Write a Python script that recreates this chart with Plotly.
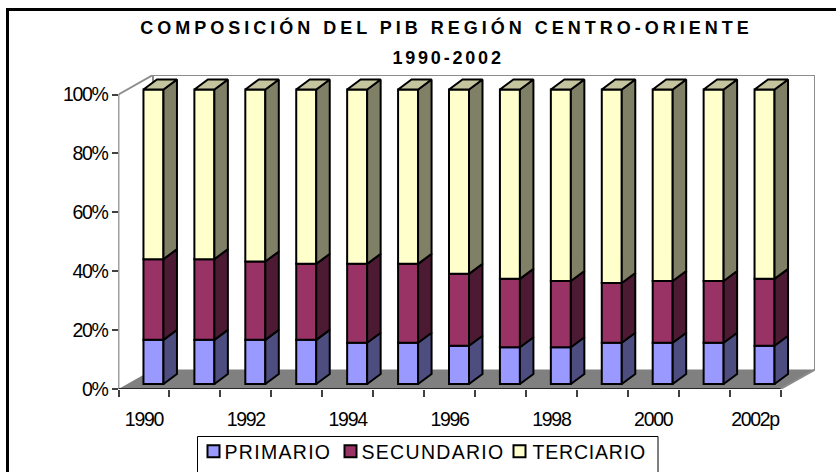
import plotly.graph_objects as go

# ---- data ----
years = ["1990","1991","1992","1993","1994","1995","1996","1997","1998","1999","2000","2001","2002p"]
primario   = [15, 15, 15, 15, 14, 14, 13, 12.5, 12.5, 14, 14, 14, 13]
secundario = [27.4, 27.4, 26.6, 25.8, 26.8, 26.8, 24.4, 23.2, 22.5, 20.3, 21, 21, 22.7]
terciario  = [57.6, 57.6, 58.4, 59.2, 59.2, 59.2, 62.6, 64.3, 65, 65.7, 65, 65, 64.3]
series_names = ["PRIMARIO", "SECUNDARIO", "TERCIARIO"]
y_ticks = [0, 20, 40, 60, 80, 100]
title_line1 = "COMPOSICIÓN DEL PIB REGIÓN CENTRO-ORIENTE"
title_line2 = "1990-2002"

front_colors = ["#9999FF", "#993366", "#FFFFCC"]
side_colors = ["#4D4D80", "#4D1A33", "#808066"]
top_color = "#C4C49E"

# ---- page geometry (pixels) ----
W, H = 836, 472
X0, X13, XR = 118.5, 780.5, 815.0   # axis start, axis end, back wall right
Y0, Y100, YT = 389.0, 94.5, 75.0    # 0 %, 100 %, back wall top
PX = (X13 - X0) / len(years)        # pixels per category
PY = (Y0 - Y100) / 100              # pixels per percent
wall_dx, wall_dy = (XR - X13) / PX, (Y100 - YT) / PY
bar_w = 20 / PX
bar_sx, bar_sy = 9.5 / PX, 5 / PY   # front face offset inside the floor
side_dx, side_dy = 13.5 / PX, 10 / PY
n = len(years)

fig = go.Figure()
stack = [primario, secundario, terciario]
base = [0.0] * n
centers = [i + 0.5 + bar_sx for i in range(n)]
for k, vals in enumerate(stack):
    fig.add_trace(go.Bar(
        x=centers, y=vals, base=[b + bar_sy for b in base], width=bar_w,
        name=series_names[k], marker=dict(color=front_colors[k], line=dict(color="#000000", width=2)),
        legend="legend" if k == 0 else f"legend{k+1}", hoverinfo="skip"))
    sx, sy = [], []
    new_base = []
    for c, b, v in zip(centers, base, vals):
        r = c + bar_w / 2
        y1, y2 = b + bar_sy, b + v + bar_sy
        sx += [r, r + side_dx, r + side_dx, r, r, None]
        sy += [y1, y1 + side_dy, y2 + side_dy, y2, y1, None]
        new_base.append(b + v)
    fig.add_trace(go.Scatter(x=sx, y=sy, mode="lines", fill="toself", fillcolor=side_colors[k],
                             line=dict(color="#000000", width=2), showlegend=False, hoverinfo="skip"))
    base = new_base

tx, ty = [], []
for c, b in zip(centers, base):
    l, r = c - bar_w / 2, c + bar_w / 2
    y = b + bar_sy
    tx += [l, r, r + side_dx, l + side_dx, l, None]
    ty += [y, y, y + side_dy, y + side_dy, y, None]
fig.add_trace(go.Scatter(x=tx, y=ty, mode="lines", fill="toself", fillcolor=top_color,
                         line=dict(color="#000000", width=2), showlegend=False, hoverinfo="skip"))

GREY = "#8C8C8C"
shapes = [
    # floor
    dict(type="path", layer="below", xref="x", yref="y", fillcolor="#808080", line=dict(width=0),
         path=f"M0,0 L{wall_dx},{wall_dy} L{n+wall_dx},{wall_dy} L{n},0 Z"),
    # walls
    dict(type="path", layer="below", xref="x", yref="y", line=dict(color=GREY, width=2),
         path=f"M0,100 L{wall_dx},{100+wall_dy} L{n+wall_dx},{100+wall_dy} L{n+wall_dx},{wall_dy} L{n},0"),
    dict(type="line", layer="below", xref="x", yref="y", x0=wall_dx, x1=wall_dx, y0=wall_dy, y1=100 + wall_dy,
         line=dict(color=GREY, width=2)),
    # axis lines
    dict(type="line", layer="above", xref="x", yref="y", x0=0, x1=0, y0=0, y1=100, line=dict(color="#404040", width=1.5)),
    dict(type="line", layer="above", xref="x", yref="y", x0=0, x1=n, y0=0, y1=0, line=dict(color="#262626", width=2)),
    # chart frame (runs off the page at right and bottom)
    dict(type="path", xref="paper", yref="paper", line=dict(color="#000000", width=3),
         path=f"M{7.5/W},0 L{7.5/W},{1-9.5/H} L1,{1-9.5/H}"),
    # legend box
    dict(type="path", xref="paper", yref="paper", line=dict(color="#000000", width=1),
         path=f"M{197.5/W},0 L{197.5/W},{1-436.5/H} L{658/W},{1-436.5/H} L{658/W},0"),
]

FONT = "Liberation Sans, Arial, sans-serif"
def legend_at(px):
    return dict(x=px / W, xanchor="left", y=1 - 451.5 / H, yanchor="middle", orientation="v",
                bgcolor="rgba(0,0,0,0)", borderwidth=0, entrywidth=140, entrywidthmode="pixels",
                font=dict(family=FONT, size=19.5, color="#000000"))

fig.update_layout(
    width=W, height=H, margin=dict(l=0, r=0, t=0, b=0, autoexpand=False),
    paper_bgcolor="white", plot_bgcolor="white", barmode="overlay",
    xaxis=dict(domain=[X0 / W, XR / W], range=[0, n + wall_dx], tickmode="array",
               tickvals=[i + 0.5 for i in range(0, n, 2)], ticktext=years[::2], ticks="",
               showgrid=False, zeroline=False, showline=False, ticklabelstandoff=16,
               tickfont=dict(family=FONT, size=19.5, color="#000000"),
               minor=dict(tickmode="array", tickvals=list(range(n + 1)), ticks="outside", ticklen=7,
                          tickwidth=1.5, tickcolor="#404040", showgrid=False)),
    yaxis=dict(domain=[1 - Y0 / H, 1 - YT / H], range=[0, 100 + wall_dy], tickmode="array",
               tickvals=y_ticks, ticktext=[f"{v}%" for v in y_ticks], ticks="outside", ticklen=6,
               tickwidth=1.5, tickcolor="#404040", showgrid=False, zeroline=False, showline=False,
               tickfont=dict(family=FONT, size=19.5, color="#000000")),
    title=dict(text=title_line1, x=446.5 / W, xanchor="center", y=1 - 28 / H, yanchor="middle",
               font=dict(family=FONT, size=18, color="#000000", weight="bold")),
    annotations=[dict(text=title_line2, xref="paper", yref="paper", x=447.5 / W, y=1 - 58 / H,
                      xanchor="center", yanchor="middle", showarrow=False,
                      font=dict(family=FONT, size=18, color="#000000", weight="bold"))],
    shapes=shapes,
    legend=legend_at(193.5), legend2=legend_at(330.5), legend3=legend_at(499.5),
)

post = """
document.body.style.margin='0';
var s=document.createElement('style');
s.textContent=
 '.gtitle{letter-spacing:4px}'+
 '.annotation-text{letter-spacing:2.8px}'+
 '.xtick text,.ytick text{letter-spacing:-1.3px}'+
 'g[class^="legend"] text{letter-spacing:1.3px !important;transform:translateX(-9px) !important}'+
 'g.legend3 text{letter-spacing:0.8px !important;transform:translateX(-7px) !important}';
document.head.appendChild(s);
"""
fig.write_html("out.html", post_script=post, config=dict(displayModeBar=False))
